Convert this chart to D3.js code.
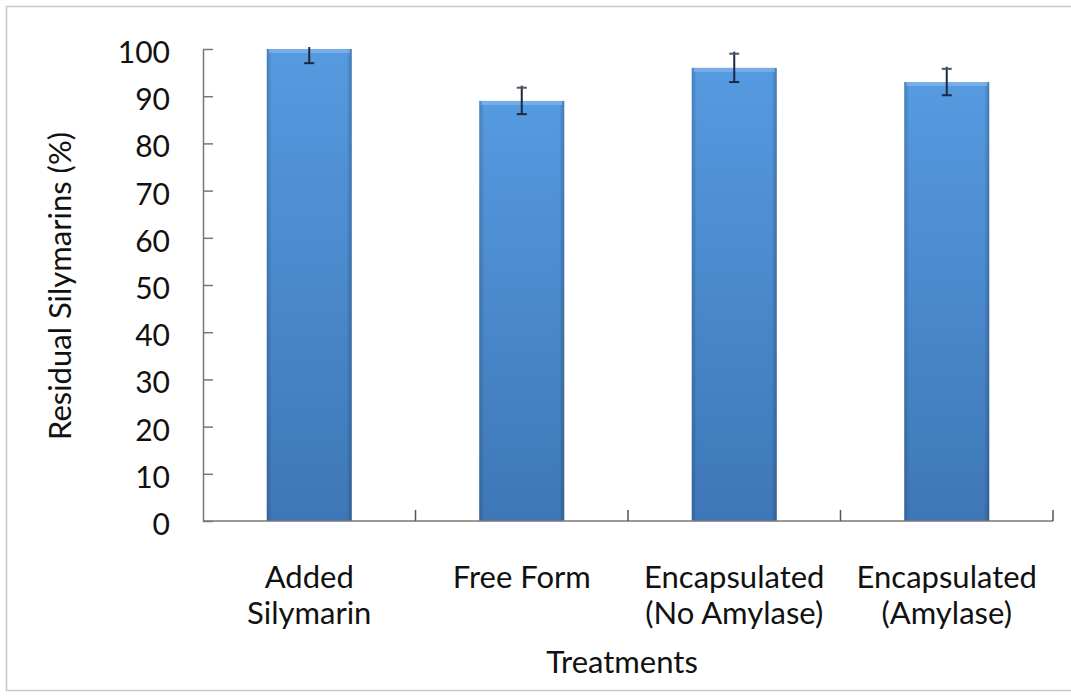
<!DOCTYPE html>
<html>
<head>
<meta charset="utf-8">
<script src="https://cdn.jsdelivr.net/npm/d3@7"></script>
<style>
  body { margin: 0; background: #fff; }
  text { font-family: Lato, "Open Sans", sans-serif; fill: #111; }
</style>
</head>
<body>
<svg id="chart" width="1071" height="698"></svg>
<script>
// data
const categories = [["Added", "Silymarin"], ["Free Form"], ["Encapsulated", "(No Amylase)"], ["Encapsulated", "(Amylase)"]];
const values = [100, 89, 96, 93];
const errors = [3, 2.8, 3, 2.8];
const yTicks = [0, 10, 20, 30, 40, 50, 60, 70, 80, 90, 100];

const rows = values.map((v, i) => ({ i: i, v: v, e: errors[i] }));

const svg = d3.select("#chart");
const margin = { top: 49, left: 203, right: 18, bottom: 177 };
const width = 1071 - margin.left - margin.right;
const height = 698 - margin.top - margin.bottom;

// outer frame
svg.append("rect")
    .attr("x", 6.5).attr("y", 6.5)
    .attr("width", 1080).attr("height", 684)
    .attr("fill", "none").attr("stroke", "#c8c8c8").attr("stroke-width", 1.5);

const defs = svg.append("defs");
const grad = defs.append("linearGradient").attr("id", "barGrad")
    .attr("x1", 0).attr("y1", 0).attr("x2", 0).attr("y2", 1);
grad.append("stop").attr("offset", "0%").attr("stop-color", "#569ae0");
grad.append("stop").attr("offset", "100%").attr("stop-color", "#3e77b7");
const edge = defs.append("linearGradient").attr("id", "edgeGrad")
    .attr("x1", 0).attr("y1", 0).attr("x2", 1).attr("y2", 0);
edge.append("stop").attr("offset", "0%").attr("stop-color", "#000").attr("stop-opacity", 0.18);
edge.append("stop").attr("offset", "6%").attr("stop-color", "#000").attr("stop-opacity", 0);
edge.append("stop").attr("offset", "94%").attr("stop-color", "#000").attr("stop-opacity", 0);
edge.append("stop").attr("offset", "100%").attr("stop-color", "#000").attr("stop-opacity", 0.22);

const g = svg.append("g").attr("transform", `translate(${margin.left},${margin.top})`);

const x = d3.scaleBand().domain(d3.range(categories.length)).range([0, width]).paddingInner(0.6).paddingOuter(0.3);
const y = d3.scaleLinear().domain([0, 100]).range([height, 0]);
const cx = d => x(d.i) + x.bandwidth() / 2;

// bars
const bars = g.selectAll("g.bar").data(rows).join("g").attr("class", "bar");
bars.append("rect")
    .attr("x", d => x(d.i)).attr("y", d => y(d.v))
    .attr("width", x.bandwidth()).attr("height", d => height - y(d.v))
    .attr("fill", "url(#barGrad)");
bars.append("rect")
    .attr("x", d => x(d.i)).attr("y", d => y(d.v))
    .attr("width", x.bandwidth()).attr("height", d => height - y(d.v))
    .attr("fill", "url(#edgeGrad)");
bars.append("rect")
    .attr("x", d => x(d.i) + 2).attr("y", d => y(d.v))
    .attr("width", x.bandwidth() - 4).attr("height", 4)
    .attr("fill", "#8dbdf0").attr("opacity", 0.6);

// error bars (clipped at the axis max)
const eb = g.selectAll("g.err").data(rows).join("g").attr("class", "err")
    .attr("stroke", "#1a2a44").attr("stroke-width", 2);
eb.append("line")
    .attr("x1", cx).attr("x2", cx)
    .attr("y1", d => y(Math.min(100, d.v + d.e)) - 2).attr("y2", d => y(d.v - d.e));
eb.append("line")
    .attr("x1", d => cx(d) - 5).attr("x2", d => cx(d) + 5)
    .attr("y1", d => y(d.v - d.e)).attr("y2", d => y(d.v - d.e));
eb.filter(d => d.v + d.e <= 100).append("line")
    .attr("x1", d => cx(d) - 5).attr("x2", d => cx(d) + 5)
    .attr("y1", d => y(d.v + d.e)).attr("y2", d => y(d.v + d.e))
    .attr("stroke", "#555");

// y axis
const yAxis = g.append("g").call(d3.axisLeft(y).tickValues(yTicks).tickSizeInner(-10).tickSizeOuter(0).tickPadding(33));
yAxis.select(".domain").attr("stroke", "#777").attr("stroke-width", 1.5);
yAxis.selectAll(".tick line").attr("stroke", "#777").attr("stroke-width", 1.5);
yAxis.selectAll("text").attr("font-size", 30).attr("font-family", "Lato, sans-serif").attr("fill", "#111")
    .attr("dy", "0.45em");

// x axis with ticks at category boundaries
const xAxis = g.append("g").attr("transform", `translate(0,${height})`);
xAxis.append("line").attr("x1", 0).attr("x2", width).attr("stroke", "#777").attr("stroke-width", 1.5);
const step = width / categories.length;
xAxis.selectAll("line.tk").data(d3.range(1, categories.length + 1)).join("line").attr("class", "tk")
    .attr("x1", d => d * step).attr("x2", d => d * step)
    .attr("y1", 0).attr("y2", -11).attr("stroke", "#555").attr("stroke-width", 1.5);

// category labels
const lab = g.selectAll("text.cat").data(categories).join("text").attr("class", "cat")
    .attr("text-anchor", "middle").attr("font-size", 31)
    .attr("transform", (d, i) => `translate(${x(i) + x.bandwidth() / 2},${height + 67})`);
lab.selectAll("tspan").data(d => d).join("tspan")
    .attr("x", 0).attr("dy", (d, j) => j === 0 ? 0 : 36).text(d => d);

// axis titles
svg.append("text").attr("text-anchor", "middle").attr("font-size", 31)
    .attr("x", 622).attr("y", 673).text("Treatments");
svg.append("text").attr("text-anchor", "middle").attr("font-size", 31)
    .attr("transform", "translate(71,286) rotate(-90)").text("Residual Silymarins (%)");
</script>
</body>
</html>
